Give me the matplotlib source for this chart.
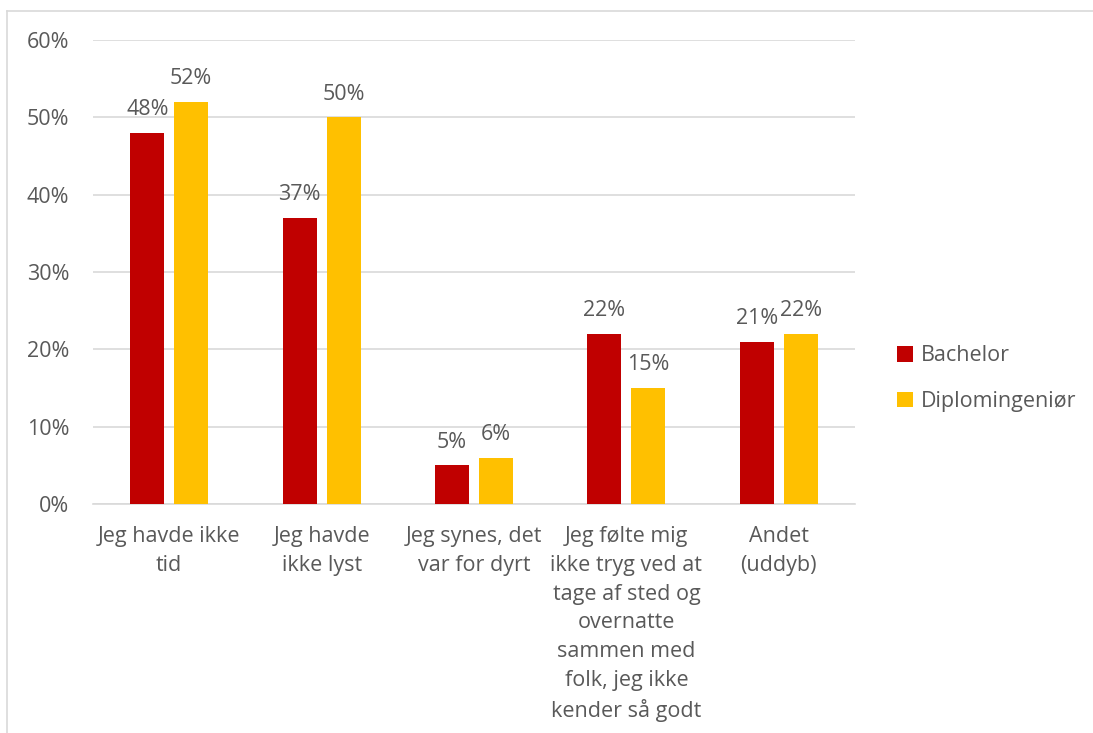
import matplotlib
matplotlib.use('Agg')
import matplotlib.pyplot as plt
import numpy as np
from matplotlib.lines import Line2D
from matplotlib.ticker import MultipleLocator, PercentFormatter

categories = ['Jeg havde ikke\ntid', 'Jeg havde\nikke lyst', 'Jeg synes, det\nvar for dyrt',
              'Jeg følte mig\nikke tryg ved at\ntage af sted og\novernatte\nsammen med\nfolk, jeg ikke\nkender så godt',
              'Andet\n(uddyb)']
bachelor = [48, 37, 5, 22, 21]
diplom = [52, 50, 6, 15, 22]

plt.rcParams['font.family'] = ['Open Sans', 'DejaVu Sans']
txt = '#595959'
red = '#C00000'
yellow = '#FFC000'
fs = 15.5

fig = plt.figure(figsize=(10.93, 7.33), dpi=100)
ax = fig.add_axes([93/1093, 1 - 504/733, (855 - 93)/1093, (504 - 40)/733])

x = np.arange(len(categories))
w = 0.223
b1 = ax.bar(x - 0.144, bachelor, w, color=red, label='Bachelor', zorder=3)
b2 = ax.bar(x + 0.144, diplom, w, color=yellow, label='Diplomingeniør', zorder=3)

for bars in (b1, b2):
    for bar in bars:
        h = bar.get_height()
        ax.annotate(f'{int(h)}%', xy=(bar.get_x() + bar.get_width() / 2, h),
                    xytext=(0, 9), textcoords='offset points',
                    ha='center', va='bottom', fontsize=fs, color=txt)

ax.set_xlim(-0.5, len(categories) - 0.5)
ax.set_ylim(0, 60)
ax.yaxis.set_major_locator(MultipleLocator(10))
ax.yaxis.set_major_formatter(PercentFormatter(decimals=0))
ax.grid(axis='y', color='#d9d9d9', linewidth=1.2, zorder=0)
for s in ax.spines.values():
    s.set_visible(False)
ax.spines['bottom'].set_visible(True)
ax.spines['bottom'].set_color('#d9d9d9')
ax.spines['bottom'].set_linewidth(1.2)
ax.tick_params(length=0, labelsize=fs, colors=txt)
ax.tick_params(axis='y', pad=17)
ax.tick_params(axis='x', pad=16)
ax.set_xticks(x)
ax.set_xticklabels(categories, linespacing=1.48, va='top')

leg = ax.legend(loc='center left', bbox_to_anchor=(1.055, 0.27), frameon=False,
                fontsize=fs, handlelength=0.75, handleheight=0.75, handletextpad=0.35,
                labelspacing=1.15, borderpad=0, borderaxespad=0, labelcolor=txt)

# outer chart border (top and left)
fig.add_artist(Line2D([7/1093, 7/1093], [0, 1 - 11/733], color='#d9d9d9', lw=1.2))
fig.add_artist(Line2D([7/1093, 1], [1 - 11/733, 1 - 11/733], color='#d9d9d9', lw=1.2))

fig.savefig('out.png', dpi=100)
